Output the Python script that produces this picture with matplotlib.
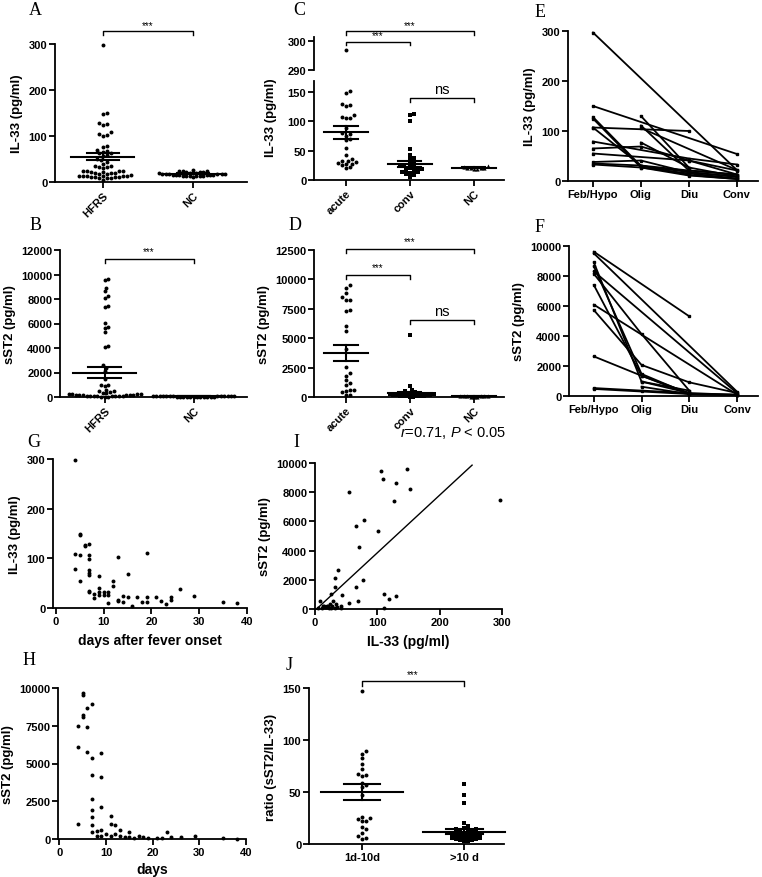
import numpy as np
import matplotlib.pyplot as plt

plt.rcParams['font.family'] = ['Liberation Sans', 'DejaVu Sans']
plt.rcParams['font.weight'] = 'bold'
plt.rcParams['axes.labelweight'] = 'bold'
plt.rcParams['mathtext.fontset'] = 'custom'
plt.rcParams['mathtext.it'] = 'Liberation Sans:italic:normal'
plt.rcParams['mathtext.rm'] = 'Liberation Sans:normal'

# ---- datos ----

# A: IL-33, HFRS vs NC
a_groups = ['HFRS', 'NC']
a_hfrs = [298, 151, 147, 129, 127, 124, 108, 105, 102, 100, 79, 76, 70, 67, 65, 64, 62, 58,
          56, 50, 48, 43, 40, 35, 34, 33, 32, 31, 25, 24, 24, 23, 22, 21, 20, 20, 19, 18, 17,
          16, 14, 14, 13, 13, 12, 12, 11, 11, 10, 10, 9, 9, 8, 4]
a_nc = [27, 25, 24, 23, 22, 22, 21, 20, 20, 19, 19, 18, 18, 18, 17, 17, 17, 16, 16, 16, 15,
        15, 15, 14, 14, 13, 13, 12, 12, 11]
a_mean = [55, 18]
a_sem = [8, 1]

# B: sST2, HFRS vs NC
b_groups = ['HFRS', 'NC']
b_hfrs = [9660, 9520, 8930, 8650, 8240, 8050, 7430, 7380, 6070, 5710, 5660, 5300, 4190, 4080,
          2610, 2390, 2120, 1440, 1000, 950, 900, 600, 500, 490, 400, 350, 300, 280, 250, 230,
          220, 200, 180, 160, 150, 140, 130, 120, 110, 100, 90, 80, 70, 60, 50, 40, 30, 20]
b_nc = [110, 95, 90, 80, 75, 70, 65, 60, 60, 55, 50, 50, 45, 40, 40, 35, 30, 30, 25, 20,
        20, 15, 10, 10, 5]
b_mean = [2000, 50]
b_sem = [420, 8]

# C: IL-33 acute / conv / NC
c_groups = ['acute', 'conv', 'NC']
c_acute = [297, 151, 147, 129, 128, 125, 110, 107, 106, 105, 88, 80, 78, 75, 70, 68, 55, 42,
           35, 33, 32, 31, 29, 28, 27, 25, 22, 20]
c_conv = [112, 110, 100, 53, 42, 37, 35, 30, 28, 25, 23, 22, 20, 20, 18, 17, 15, 14, 13, 12,
          10, 8, 5]
c_nc = [23, 22, 21, 21, 20, 20, 19, 18]
c_mean = [81, 27, 21]
c_sem = [11, 5, 1]

# D: sST2 acute / conv / NC
d_groups = ['acute', 'conv', 'NC']
d_acute = [9510, 9310, 8830, 8520, 8270, 8240, 7390, 7340, 6010, 5640, 4090, 2540, 2030, 1780,
           1410, 1190, 990, 560, 560, 500, 420, 200, 150]
d_conv = [5300, 900, 600, 500, 400, 350, 300, 250, 220, 200, 180, 150, 130, 120, 100, 90, 80,
          60, 50, 40, 30]
d_nc = [80, 70, 60, 55, 50, 45, 40, 35, 30]
d_mean = [3750, 330, 50]
d_sem = [650, 100, 8]

# E, F: seguimiento por fase
phases = ['Feb/Hypo', 'Olig', 'Diu', 'Conv']
nan = np.nan
e_il33 = [[297, nan, nan, 22], [150, nan, nan, 54], [128, 30, 18, 8], [125, 27, 15, 5],
          [107, nan, 100, nan], [107, 31, 12, 4], [nan, 130, 27, nan], [nan, 111, 21, 13],
          [nan, 106, nan, 22], [79, nan, 45, 33], [65, 69, 41, 21], [55, nan, 41, 13],
          [38, 41, 17, 9], [35, 31, 21, 13], [33, 27, 11, 4], [nan, 77, 27, 9]]
f_sst2 = [[9620, nan, 5310, nan], [9510, nan, nan, 290], [8910, 960, 200, nan],
          [8640, 1470, 130, nan], [8310, nan, nan, 200], [8150, 4130, 360, nan],
          [7400, 1350, 130, 70], [6090, nan, nan, 100], [5730, 2070, 910, 200],
          [2640, 1350, 200, nan], [530, 360, 200, 70], [470, nan, 130, 50],
          [nan, 620, 130, 100], [nan, 960, 360, nan]]

# G: IL-33 vs dias
g_days = [4, 4, 4, 5, 5, 5, 5, 6, 6, 7, 7, 7, 7, 7, 7, 7, 7, 8, 8, 9, 9, 9, 9, 10, 10, 11, 11,
          11, 12, 12, 13, 13, 13, 14, 14, 15, 15, 16, 17, 18, 19, 19, 19, 21, 22, 23, 24, 24,
          26, 29, 35, 38]
g_il33 = [297, 109, 78, 150, 147, 106, 54, 127, 125, 129, 107, 99, 76, 71, 66, 35, 33, 29, 20,
          65, 40, 32, 27, 32, 27, 32, 27, 11, 54, 44, 103, 17, 14, 24, 12, 68, 22, 4, 22, 13,
          111, 22, 13, 22, 14, 8, 22, 17, 39, 24, 13, 11]

# H: sST2 vs dias
h_days = [4, 4, 4, 5, 5, 5, 5, 6, 6, 6, 7, 7, 7, 7, 7, 7, 7, 7, 8, 8, 9, 9, 9, 9, 9, 10, 11, 11,
          11, 12, 12, 13, 13, 14, 15, 15, 16, 17, 18, 19, 21, 22, 23, 24, 26, 29, 35, 38]
h_sst2 = [7460, 6110, 990, 9650, 9540, 8210, 8060, 8650, 7400, 5780, 8940, 5340, 4240, 2650,
          1940, 1430, 930, 490, 550, 220, 5670, 4130, 2100, 600, 220, 330, 1550, 990, 220, 930,
          330, 620, 220, 110, 490, 110, 66, 220, 150, 66, 66, 66, 490, 150, 110, 180, 66, 0]

# I: correlacion sST2 vs IL-33
i_il33 = [106, 109, 147, 152, 130, 126, 297, 55, 66, 79, 71, 101, 37, 32, 32, 77, 66, 44, 26,
          69, 54, 110, 119, 130, 111, 8, 13, 19, 21, 24, 29, 28, 35, 41, 41, 16, 5, 11, 32, 34,
          18, 22, 26, 14, 20]
i_sst2 = [9470, 8920, 9610, 8240, 8630, 7390, 7440, 8010, 5680, 6120, 4230, 5330, 2680, 2110,
          1530, 1990, 1490, 960, 1030, 570, 390, 1030, 690, 920, 70, 530, 230, 230, 180, 340,
          570, 230, 110, 230, 70, 110, 50, 90, 70, 340, 150, 100, 60, 200, 120]
fit_slope = 39.5
fit_intercept = -100
fit_x = [2.5, 252]

# J: ratio sST2/IL-33
j_groups = ['1d-10d', '>10 d']
j_early = [147, 89, 87, 83, 77, 72, 67, 66, 65, 59, 57, 55, 47, 26, 25, 24, 22, 22, 16, 14,
           11, 8, 6, 5]
j_late = [58, 47, 39, 20, 17, 15, 14, 14, 13, 12, 12, 11, 10, 10, 9, 9, 8, 8, 7, 7, 6, 6, 5,
          5, 4, 4, 3, 3]
j_mean = [50, 12]
j_sem = [7.5, 2.5]

# ---- figura ----
W, H = 762, 878
fig = plt.figure(figsize=(W / 100, H / 100), dpi=100)

TICK = 8
YLAB = 9.5


def caja(x0, x1, ytop, ybot):
    return [x0 / W, 1 - ybot / H, (x1 - x0) / W, (ybot - ytop) / H]


def estilo(ax):
    ax.spines['top'].set_visible(False)
    ax.spines['right'].set_visible(False)
    for s in ['left', 'bottom']:
        ax.spines[s].set_linewidth(1.3)
    ax.tick_params(direction='out', length=4, width=1.3, labelsize=TICK, pad=1.5)


def enjambre(ax, xc, vals, d=4.0, marker='o', s=8):
    # coloca los puntos sin solaparse (tipo beeswarm)
    vals = np.asarray(vals, dtype=float)
    pts = ax.transData.transform(np.column_stack([np.full(len(vals), xc), vals]))
    colocados = []
    xs = np.zeros(len(vals))
    paso = d / 2
    cands = [0.0] + [sg * j * paso for j in range(1, 200) for sg in (1, -1)]
    for i in np.argsort(vals):
        px, py = pts[i]
        for off in cands:
            if all((px + off - qx) ** 2 + (py - qy) ** 2 >= d * d for qx, qy in colocados):
                break
        colocados.append((px + off, py))
        xs[i] = ax.transData.inverted().transform((px + off, py))[0]
    ax.scatter(xs, vals, s=s, c='k', marker=marker, linewidths=0, clip_on=False, zorder=3)


def media_sem(ax, xc, m, e, ancho=0.35, tapa=0.18):
    kw = dict(color='k', lw=1.5, clip_on=False, zorder=4)
    ax.plot([xc - ancho, xc + ancho], [m, m], **kw)
    ax.plot([xc, xc], [m - e, m + e], **kw)
    ax.plot([xc - tapa, xc + tapa], [m + e, m + e], **kw)
    ax.plot([xc - tapa, xc + tapa], [m - e, m - e], **kw)


def corchete(ax, x0, x1, y, pata, texto, ty, fs=7):
    ax.plot([x0, x0, x1, x1], [y - pata, y, y, y - pata], color='k', lw=1, clip_on=False)
    ax.text((x0 + x1) / 2, ty, texto, ha='center', va='bottom', fontsize=fs,
            fontweight='normal', clip_on=False)


def letra(x, y, t):
    fig.text(x / W, 1 - y / H, t, fontsize=13, family='Liberation Serif',
             fontweight='normal', va='baseline')


def etiquetas_rotadas(ax, grupos):
    ax.set_xticks(range(len(grupos)))
    ax.set_xticklabels(grupos, rotation=45, ha='right', rotation_mode='anchor', fontsize=TICK)


# A
ax = fig.add_axes(caja(55, 247, 45, 183))
estilo(ax)
ax.set_xlim(-0.53, 1.6)
ax.set_ylim(0, 300)
ax.set_yticks([0, 100, 200, 300])
etiquetas_rotadas(ax, a_groups)
enjambre(ax, 0, a_hfrs)
enjambre(ax, 1, a_nc, d=3.4)
for k in range(2):
    media_sem(ax, k, a_mean[k], a_sem[k])
ax.set_ylabel('IL-33 (pg/ml)', fontsize=YLAB)
corchete(ax, 0, 1, 328, 8, '***', 331)

# B
ax = fig.add_axes(caja(60, 247, 251, 398))
estilo(ax)
ax.set_xlim(-0.5, 1.6)
ax.set_ylim(0, 12000)
ax.set_yticks(range(0, 12001, 2000))
etiquetas_rotadas(ax, b_groups)
enjambre(ax, 0, b_hfrs, d=3.6)
enjambre(ax, 1, b_nc, d=3.4)
for k in range(2):
    media_sem(ax, k, b_mean[k], b_sem[k])
ax.set_ylabel('sST2 (pg/ml)', fontsize=YLAB)
corchete(ax, 0, 1, 11270, 350, '***', 11500)

# C (eje cortado)
axc_t = fig.add_axes(caja(314, 504, 38, 71))
estilo(axc_t)
axc_t.spines['bottom'].set_visible(False)
axc_t.set_xlim(-0.5, 2.47)
axc_t.set_ylim(290, 301.4)
axc_t.set_yticks([290, 300])
axc_t.set_xticks([])
axc_b = fig.add_axes(caja(314, 504, 82, 181))
estilo(axc_b)
axc_b.set_xlim(-0.5, 2.47)
axc_b.set_ylim(0, 168)
axc_b.set_yticks([0, 50, 100, 150])
etiquetas_rotadas(axc_b, c_groups)
alto = [v for v in c_acute if v > 168]
enjambre(axc_t, 0, alto)
enjambre(axc_b, 0, [v for v in c_acute if v <= 168])
enjambre(axc_b, 1, c_conv, marker='s', s=9)
enjambre(axc_b, 2, c_nc, marker='^', s=9, d=3.4)
for k in range(3):
    media_sem(axc_b, k, c_mean[k], c_sem[k])
fig.text(271 / W, 1 - 118 / H, 'IL-33 (pg/ml)', rotation=90, fontsize=YLAB,
         ha='center', va='center')
corchete(axc_t, 0, 2, 303.4, 1.2, '***', 303.8)
corchete(axc_t, 0, 1, 299.8, 1.2, '***', 300.2)
corchete(axc_b, 1, 2, 140, 7, 'ns', 143, fs=10.5)

# D
ax = fig.add_axes(caja(314, 504, 251, 398))
estilo(ax)
ax.set_xlim(-0.5, 2.47)
ax.set_ylim(0, 12500)
ax.set_yticks(range(0, 12501, 2500))
etiquetas_rotadas(ax, d_groups)
enjambre(ax, 0, d_acute)
enjambre(ax, 1, d_conv, marker='s', s=9, d=3.4)
enjambre(ax, 2, d_nc, marker='^', s=9, d=3.4)
for k in range(3):
    media_sem(ax, k, d_mean[k], d_sem[k])
ax.set_ylabel('sST2 (pg/ml)', fontsize=YLAB)
corchete(ax, 0, 2, 12600, 350, '***', 12800)
corchete(ax, 0, 1, 10370, 350, '***', 10600)
corchete(ax, 1, 2, 6550, 350, 'ns', 6750, fs=10.5)

# E
ax = fig.add_axes(caja(568, 758, 32, 182))
estilo(ax)
ax.set_xlim(-0.52, 3.44)
ax.set_ylim(0, 300)
ax.set_yticks([0, 100, 200, 300])
for serie in e_il33:
    serie = np.array(serie, dtype=float)
    ok = ~np.isnan(serie)
    ax.plot(np.arange(4)[ok], serie[ok], color='k', lw=1.3, marker='s', ms=2,
            clip_on=False)
ax.set_xticks(range(4))
ax.set_xticklabels(phases, fontsize=TICK)
ax.set_ylabel('IL-33 (pg/ml)', fontsize=YLAB)

# F
ax = fig.add_axes(caja(569, 758, 247, 397))
estilo(ax)
ax.set_xlim(-0.52, 3.44)
ax.set_ylim(0, 10000)
ax.set_yticks(range(0, 10001, 2000))
for serie in f_sst2:
    serie = np.array(serie, dtype=float)
    ok = ~np.isnan(serie)
    ax.plot(np.arange(4)[ok], serie[ok], color='k', lw=1.3, marker='s', ms=2,
            clip_on=False)
ax.set_xticks(range(4))
ax.set_xticklabels(phases, fontsize=TICK)
ax.set_ylabel('sST2 (pg/ml)', fontsize=YLAB)

# G
ax = fig.add_axes(caja(53, 247, 460, 609))
estilo(ax)
ax.set_xlim(-0.6, 40)
ax.set_ylim(0, 300)
ax.set_yticks([0, 100, 200, 300])
ax.set_xticks(range(0, 41, 10))
ax.scatter(g_days, g_il33, s=8, c='k', linewidths=0, clip_on=False)
ax.set_ylabel('IL-33 (pg/ml)', fontsize=YLAB)
ax.set_xlabel('days after fever onset', fontsize=10, labelpad=5)

# H
ax = fig.add_axes(caja(58, 246, 689, 840))
estilo(ax)
ax.set_xlim(-0.3, 40)
ax.set_ylim(0, 10000)
ax.set_yticks(range(0, 10001, 2500))
ax.set_xticks(range(0, 41, 10))
ax.scatter(h_days, h_sst2, s=8, c='k', linewidths=0, clip_on=False)
ax.set_ylabel('sST2 (pg/ml)', fontsize=YLAB)
ax.set_xlabel('days', fontsize=10, labelpad=4)

# I
ax = fig.add_axes(caja(315, 502, 464, 610))
estilo(ax)
ax.set_xlim(0, 300)
ax.set_ylim(0, 10000)
ax.set_yticks(range(0, 10001, 2000))
ax.set_xticks([0, 100, 200, 300])
ax.scatter(i_il33, i_sst2, s=8, c='k', linewidths=0, clip_on=False)
fx = np.array(fit_x)
ax.plot(fx, fit_slope * fx + fit_intercept, color='k', lw=1, clip_on=False)
ax.set_ylabel('sST2 (pg/ml)', fontsize=YLAB)
ax.set_xlabel('IL-33 (pg/ml)', fontsize=10, labelpad=5)
fig.text(506 / W, 1 - 437 / H, r'$\it{r}$=0.71, $\it{P}$ < 0.05', fontsize=10.5,
         fontweight='normal', ha='right', va='baseline')

# J
ax = fig.add_axes(caja(309, 504, 689, 845))
estilo(ax)
ax.set_xlim(-0.52, 1.39)
ax.set_ylim(0, 150)
ax.set_yticks([0, 50, 100, 150])
ax.set_xticks(range(2))
ax.set_xticklabels(j_groups, fontsize=TICK)
enjambre(ax, 0, j_early)
enjambre(ax, 1, j_late, marker='s', s=9)
for k in range(2):
    media_sem(ax, k, j_mean[k], j_sem[k], ancho=0.4)
ax.set_ylabel('ratio (sST2/IL-33)', fontsize=YLAB)
corchete(ax, 0, 1, 157, 5, '***', 159)

# letras de panel
letra(29, 15, 'A')
letra(30, 230, 'B')
letra(293, 15, 'C')
letra(289, 230, 'D')
letra(535, 17, 'E')
letra(535, 232, 'F')
letra(27, 447, 'G')
letra(23, 665, 'H')
letra(293, 447, 'I')
letra(286, 670, 'J')

fig.savefig('out.png', dpi=100)
